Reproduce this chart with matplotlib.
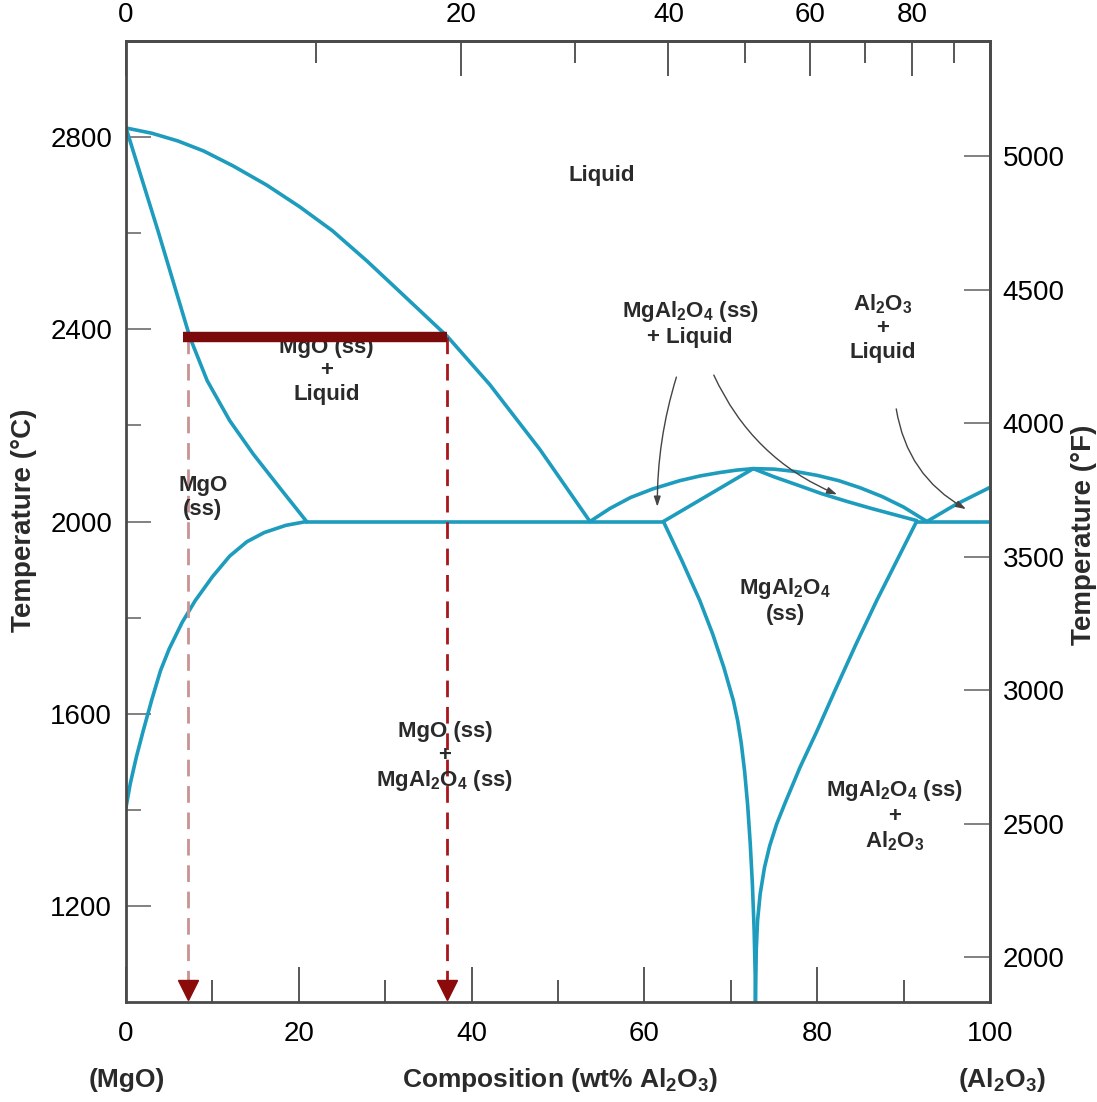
"""MgO - Al2O3 phase diagram with a lever-rule tie line at ~2385 C."""
import numpy as np
import matplotlib
matplotlib.use("Agg")
import matplotlib.pyplot as plt

plt.rcParams["font.family"] = ["Liberation Sans", "DejaVu Sans"]
plt.rcParams["mathtext.default"] = "regular"

# phase boundaries, (wt% Al2O3, temperature in C)
mgo_liquidus_x = [0, 3, 6, 9, 12.4, 16.3, 20.1, 23.9, 27.9, 31.7, 37.2, 42.1, 47.9, 53.7]
mgo_liquidus_t = [2819, 2808, 2792, 2771, 2740, 2700, 2655, 2605, 2542, 2478, 2385, 2285, 2150, 2000]
mgo_solidus_x = [0, 3.7, 7.4, 9.4, 12.0, 14.7, 17.8, 20.9]
mgo_solidus_t = [2819, 2605, 2383, 2293, 2210, 2141, 2070, 2000]
mgo_solvus_x = [20.9, 18.5, 16, 14, 12, 10, 8, 6.5, 5, 4, 3, 2, 1.2, 0.5, 0]
mgo_solvus_t = [2000, 1992, 1977, 1958, 1928, 1885, 1835, 1790, 1735, 1690, 1630, 1565, 1510, 1455, 1405]
spl_liq_left_x = [53.7, 56, 58.4, 61, 64.1, 66.5, 68.75, 70.7, 72.6]
spl_liq_left_t = [2000, 2027, 2050, 2068, 2085, 2095, 2102, 2107, 2110]
spl_liq_right_x = [72.6, 75, 77.5, 80, 82.5, 85, 87.5, 90, 92.7]
spl_liq_right_t = [2110, 2109, 2104, 2096, 2085, 2070, 2052, 2030, 2000]
spl_sol_left_x = [62.2, 72.6]
spl_sol_left_t = [2000, 2110]
spl_sol_right_x = [72.6, 75, 77.7, 80.5, 83.4, 86.3, 89.2, 91.5]
spl_sol_right_t = [2110, 2093, 2076, 2058, 2042, 2027, 2013, 2002]
spl_solvus_left_x = [62.2, 64.3, 66.4, 67.9, 69.2, 70.3, 70.8, 71.2, 71.6, 71.95, 72.25,
                     72.5, 72.7, 72.82, 72.85]
spl_solvus_left_t = [2000, 1920, 1836, 1766, 1696, 1627, 1585, 1540, 1480, 1410, 1330,
                     1245, 1150, 1060, 1000]
spl_solvus_right_x = [91.5, 89.2, 86.9, 84.5, 82.1, 80.0, 78.0, 76.3, 75.3, 74.5, 73.9,
                      73.4, 73.1, 72.95, 72.85]
spl_solvus_right_t = [2000, 1918, 1836, 1745, 1650, 1565, 1488, 1415, 1370, 1325, 1280,
                      1225, 1170, 1110, 1000]
al2o3_liquidus_x = [92.7, 96, 100]
al2o3_liquidus_t = [2000, 2035, 2071]
eutectic_segments = [(20.9, 62.2), (91.5, 100)]
eutectic_t = 2000

# tie line
tie_t = 2385
tie_x = [7.2, 37.2]

c_ticks = [1200, 1600, 2000, 2400, 2800]
c_minor = [1400, 1800, 2200, 2600]
f_ticks = [2000, 2500, 3000, 3500, 4000, 4500, 5000]
wt_ticks = [0, 20, 40, 60, 80, 100]
wt_minor = [10, 30, 50, 70, 90]
mol_ticks = [0, 20, 40, 60, 80]
mol_minor = [10, 30, 50, 70, 90]

region_labels = [
    ("Liquid", 55.1, 2720),
    ("MgO (ss)\n+\nLiquid", 23.2, 2314),
    ("MgO\n(ss)", 8.9, 2050),
    ("MgAl$_2$O$_4$ (ss)\n+ Liquid", 65.3, 2412),
    ("Al$_2$O$_3$\n+\nLiquid", 87.6, 2404),
    ("MgAl$_2$O$_4$\n(ss)", 76.3, 1836),
    ("MgO (ss)\n+\nMgAl$_2$O$_4$ (ss)", 36.9, 1509),
    ("MgAl$_2$O$_4$ (ss)\n+\nAl$_2$O$_3$", 89.0, 1388),
]
pointers = [
    ((63.8, 2306), (61.5, 2025), 0.08),
    ((67.9, 2310), (82.6, 2054), 0.2),
    ((89.1, 2240), (97.5, 2023), 0.25),
]

M_AL2O3, M_MGO = 101.96, 40.30


def wt2mol(w):
    w = np.asarray(w, float)
    a = w / M_AL2O3
    b = (100 - w) / M_MGO
    return 100 * a / (a + b)


def mol2wt(m):
    m = np.asarray(m, float)
    a = m * M_AL2O3
    b = (100 - m) * M_MGO
    return 100 * a / (a + b)


TEAL = "#1d9cbd"
SPINE = "#4a4a4a"
INK = "#2a2a2a"

fig = plt.figure(figsize=(10.97, 11.02), dpi=100)
W, H = 1097, 1102
ax = fig.add_axes([126 / W, 1 - 1002 / H, 864 / W, 961 / H])

lw = 2.6
for xs, ts in [(mgo_liquidus_x, mgo_liquidus_t), (mgo_solidus_x, mgo_solidus_t),
               (mgo_solvus_x, mgo_solvus_t), (spl_liq_left_x, spl_liq_left_t),
               (spl_liq_right_x, spl_liq_right_t), (spl_sol_left_x, spl_sol_left_t),
               (spl_sol_right_x, spl_sol_right_t), (spl_solvus_left_x, spl_solvus_left_t),
               (spl_solvus_right_x, spl_solvus_right_t), (al2o3_liquidus_x, al2o3_liquidus_t)]:
    ax.plot(xs, ts, color=TEAL, lw=lw, solid_capstyle="round", solid_joinstyle="round", zorder=2)
for x0, x1 in eutectic_segments:
    ax.plot([x0, x1], [eutectic_t, eutectic_t], color=TEAL, lw=lw, zorder=2)

# tie line and dashed drops to the composition axis
ax.plot([tie_x[0] - 0.6, tie_x[1]], [tie_t, tie_t], color="#7b0b0b", lw=7.5,
        solid_capstyle="butt", zorder=4)
ax.plot([tie_x[0], tie_x[0]], [tie_t, 1030], color="#c99393", lw=2, ls=(0, (6, 3.5)), zorder=3)
ax.plot([tie_x[1], tie_x[1]], [tie_t, 1030], color="#a8161a", lw=2, ls=(0, (6, 3.5)), zorder=3)
ax.plot(tie_x, [1024, 1024], ls="none", marker="v", markersize=15,
        color="#8b0a0a", zorder=5, clip_on=False)

for txt, x, t in region_labels:
    ax.text(x, t, txt, ha="center", va="center", fontsize=16, fontweight="bold",
            color=INK, linespacing=1.15, zorder=3)

for (x0, t0), (x1, t1), rad in pointers:
    ax.annotate("", xy=(x1, t1), xytext=(x0, t0),
                arrowprops=dict(arrowstyle="-|>,head_length=0.6,head_width=0.2",
                                color="#444444", lw=1.0,
                                connectionstyle=f"arc3,rad={rad}"))

ax.set_xlim(0, 100)
ax.set_ylim(1000, 3000)
for s in ax.spines.values():
    s.set_color(SPINE)
    s.set_linewidth(2)

ax.set_xticks(wt_ticks)
ax.set_xticks(wt_minor, minor=True)
ax.set_yticks(c_ticks)
ax.set_yticks(c_minor, minor=True)
ax.tick_params(axis="x", which="major", direction="in", length=25, width=1.3,
               color=SPINE, labelsize=20, pad=14, top=False)
ax.tick_params(axis="x", which="minor", direction="in", length=16, width=1.3,
               color=SPINE, top=False)
ax.tick_params(axis="y", which="major", direction="in", length=18, width=1.3,
               color="#777777", labelsize=20, pad=10, right=False)
ax.tick_params(axis="y", which="minor", direction="in", length=11, width=1.3,
               color="#777777", right=False)

top = ax.secondary_xaxis("top", functions=(wt2mol, mol2wt))
top.set_xticks(mol_ticks)
top.set_xticks(mol_minor, minor=True)
top.tick_params(which="major", direction="in", length=25, width=1.3, color=SPINE,
                labelsize=20, pad=9)
top.tick_params(which="minor", direction="in", length=16, width=1.3, color=SPINE)
top.spines["top"].set_color(SPINE)
top.spines["top"].set_linewidth(2)

right = ax.secondary_yaxis("right", functions=(lambda c: np.asarray(c) * 9 / 5 + 32,
                                               lambda f: (np.asarray(f) - 32) * 5 / 9))
right.set_yticks(f_ticks)
right.tick_params(direction="in", length=19, width=1.3, color="#777777",
                  labelsize=20, pad=9)
right.spines["right"].set_color(SPINE)
right.spines["right"].set_linewidth(2)

fig.text(24 / W, 1 - 520 / H, "Temperature (°C)", rotation=90, ha="center",
         va="center", fontsize=20, fontweight="bold", color=INK)
fig.text(1084 / W, 1 - 535 / H, "Temperature (°F)", rotation=90, ha="center",
         va="center", fontsize=20, fontweight="bold", color=INK)
fig.text(560 / W, 1 - 1080 / H, "Composition (wt% Al$_2$O$_3$)", ha="center",
         va="center", fontsize=19, fontweight="bold", color=INK)
fig.text(127 / W, 1 - 1080 / H, "(MgO)", ha="center", va="center", fontsize=19,
         fontweight="bold", color=INK)
fig.text(1002 / W, 1 - 1080 / H, "(Al$_2$O$_3$)", ha="center", va="center",
         fontsize=19, fontweight="bold", color=INK)

fig.savefig("out.png", dpi=100)
